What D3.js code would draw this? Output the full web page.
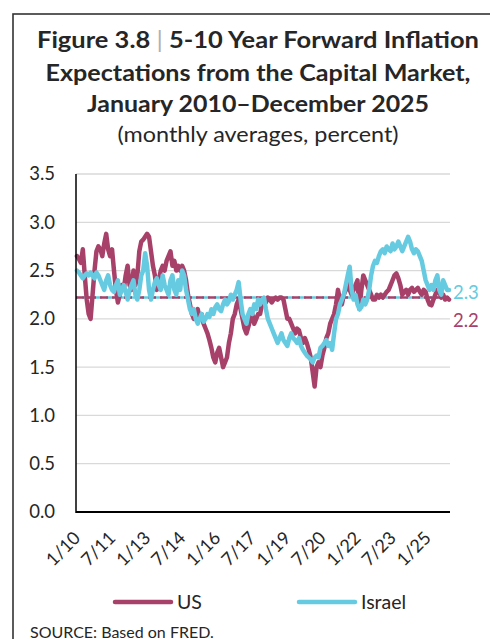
<!DOCTYPE html>
<html>
<head>
<meta charset="utf-8">
<script src="https://cdn.jsdelivr.net/npm/d3@7"></script>
<style>
html,body{margin:0;padding:0;background:#fff;}
svg{display:block;}
</style>
</head>
<body>
<svg id="chart" width="490" height="639"></svg>
<script>
// ---------- DATA ----------
const months = [];
for (let y = 2010; y <= 2025; y++) for (let m = 1; m <= 12; m++) months.push(m + "/" + String(y).slice(2));

const usValues = [
 2.65,2.62,2.58,2.72,2.45,2.2,2.05,2.0,2.25,2.5,2.7,2.75,
 2.72,2.65,2.78,2.88,2.72,2.65,2.72,2.5,2.3,2.17,2.25,2.35,
 2.3,2.45,2.55,2.35,2.3,2.5,2.35,2.45,2.7,2.8,2.82,2.85,
 2.88,2.85,2.7,2.55,2.45,2.3,2.4,2.5,2.55,2.5,2.6,2.65,
 2.7,2.55,2.6,2.5,2.55,2.5,2.55,2.5,2.4,2.25,2.15,2.05,
 2.0,2.05,2.1,2.0,2.05,1.95,1.9,1.85,1.78,1.7,1.6,1.55,
 1.65,1.7,1.6,1.5,1.55,1.6,1.75,1.85,2.0,2.05,2.15,2.2,
 2.1,2.0,1.9,1.85,1.92,2.0,2.05,1.95,2.0,2.05,2.05,2.15,
 2.2,2.17,2.22,2.2,2.17,2.2,2.22,2.2,2.22,2.22,2.2,2.1,
 2.0,2.0,1.95,1.9,1.85,1.9,1.88,1.8,1.75,1.8,1.75,1.68,
 1.6,1.45,1.3,1.5,1.55,1.5,1.62,1.7,1.8,1.85,1.95,2.0,
 2.05,2.15,2.3,2.2,2.15,2.25,2.3,2.37,2.3,2.25,2.3,2.35,
 2.4,2.1,2.3,2.45,2.4,2.35,2.3,2.25,2.2,2.2,2.25,2.22,
 2.25,2.22,2.25,2.28,2.3,2.35,2.4,2.45,2.47,2.42,2.35,2.25,
 2.28,2.3,2.25,2.3,2.32,2.28,2.3,2.32,2.28,2.25,2.3,2.28,
 2.2,2.15,2.14,2.2,2.25,2.3,2.28,2.22,2.25,2.2,2.22,2.2
];
const israelValues = [
 2.5,2.48,2.45,2.42,2.45,2.47,2.45,2.48,2.45,2.42,2.48,2.45,
 2.4,2.35,2.3,2.4,2.45,2.35,2.3,2.28,2.35,2.4,2.25,2.3,
 2.35,2.28,2.2,2.3,2.35,2.4,2.25,2.2,2.3,2.45,2.5,2.68,
 2.55,2.3,2.2,2.3,2.38,2.42,2.35,2.3,2.45,2.35,2.3,2.25,
 2.4,2.45,2.3,2.25,2.4,2.3,2.5,2.45,2.3,2.2,2.1,2.05,
 2.1,2.0,1.95,2.0,2.05,1.97,2.0,2.05,2.02,2.1,2.05,2.12,
 2.15,2.1,2.08,2.15,2.2,2.15,2.18,2.25,2.2,2.25,2.3,2.38,
 2.2,2.05,2.0,1.95,2.05,2.1,2.05,2.15,2.1,2.2,2.15,2.2,
 2.22,2.1,2.0,1.95,1.9,1.85,1.8,1.75,1.8,1.85,1.78,1.75,
 1.72,1.8,1.85,1.8,1.78,1.75,1.8,1.72,1.68,1.65,1.62,1.6,
 1.58,1.55,1.6,1.62,1.6,1.7,1.72,1.75,1.78,1.72,1.75,1.68,
 1.85,2.0,2.05,2.15,2.2,2.25,2.35,2.45,2.54,2.3,2.2,2.25,
 2.15,2.1,2.12,2.2,2.15,2.2,2.3,2.45,2.55,2.6,2.58,2.65,
 2.7,2.72,2.68,2.75,2.72,2.7,2.78,2.72,2.75,2.8,2.75,2.7,
 2.75,2.8,2.85,2.8,2.72,2.68,2.72,2.7,2.65,2.6,2.5,2.4,
 2.35,2.3,2.35,2.3,2.4,2.45,2.3,2.25,2.4,2.35,2.3,2.3
];
const usAverage = 2.22;
const israelAverage = 2.22;
const usLastLabel = "2.2";
const israelLastLabel = "2.3";
const xTickLabels = ["1/10","7/11","1/13","7/14","1/16","7/17","1/19","7/20","1/22","7/23","1/25"];
const yTicks = [0,0.5,1,1.5,2,2.5,3,3.5];
const seriesNames = ["US","Israel"];

// ---------- STYLE ----------
const US_COLOR = "#a8416a";
const IL_COLOR = "#66cbe0";
const TEXT = "#262626";
const FONT = "Lato, 'Open Sans', sans-serif";

const svg = d3.select("#chart");

// frame
svg.append("rect").attr("x",13).attr("y",14).attr("width",520).attr("height",700)
  .attr("fill","none").attr("stroke","#333").attr("stroke-width",1.6);

// title
const titleX = 258;
const t1 = svg.append("text").attr("x",titleX).attr("y",48).attr("text-anchor","middle")
  .attr("font-family",FONT).attr("font-weight","bold").attr("font-size",23).attr("fill",TEXT)
  .attr("textLength",442).attr("lengthAdjust","spacingAndGlyphs");
t1.append("tspan").text("Figure 3.8 ");
t1.append("tspan").attr("fill","#b0b0b0").attr("font-weight","normal").text("|");
t1.append("tspan").text(" 5-10 Year Forward Inflation");
svg.append("text").attr("x",titleX).attr("y",81).attr("text-anchor","middle")
  .attr("font-family",FONT).attr("font-weight","bold").attr("font-size",23).attr("fill",TEXT)
  .attr("textLength",425).attr("lengthAdjust","spacingAndGlyphs")
  .text("Expectations from the Capital Market,");
svg.append("text").attr("x",titleX).attr("y",112).attr("text-anchor","middle")
  .attr("font-family",FONT).attr("font-weight","bold").attr("font-size",23).attr("fill",TEXT)
  .attr("textLength",342).attr("lengthAdjust","spacingAndGlyphs")
  .text("January 2010\u2013December 2025");
svg.append("text").attr("x",titleX).attr("y",142).attr("text-anchor","middle")
  .attr("font-family",FONT).attr("font-size",21).attr("fill",TEXT)
  .attr("textLength",281).attr("lengthAdjust","spacingAndGlyphs")
  .text("(monthly averages, percent)");

// scales
const x = d3.scalePoint().domain(months).range([76,450]).padding(0.5);
const y = d3.scaleLinear().domain([0,3.5]).range([512,174]);

// gridlines
svg.append("g").selectAll("line").data(yTicks.filter(d=>d>0)).join("line")
  .attr("x1",76).attr("x2",450).attr("y1",d=>y(d)).attr("y2",d=>y(d))
  .attr("stroke","#d9d9d9").attr("stroke-width",1.3);

// y axis labels
const yAxis = d3.axisLeft(y).tickValues(yTicks).tickFormat(d3.format(".1f")).tickSize(0).tickPadding(0);
const gy = svg.append("g").attr("transform","translate(55,0)").call(yAxis);
gy.select(".domain").remove();
gy.selectAll("text").attr("font-family",FONT).attr("font-size",18.5).attr("fill",TEXT);

// x axis labels
const xAxis = d3.axisBottom(x).tickValues(xTickLabels).tickSize(0).tickFormat(d=>d);
const gx = svg.append("g").attr("transform","translate(0,512)").call(xAxis);
gx.select(".domain").remove();
gx.selectAll("text").attr("font-family",FONT).attr("font-size",18).attr("fill",TEXT)
  .attr("text-anchor","end").attr("dy",null).attr("y",0)
  .attr("transform","translate(4,27) rotate(-45)");

// dashed averages
svg.append("line").attr("x1",76).attr("x2",449).attr("y1",y(israelAverage)).attr("y2",y(israelAverage))
  .attr("stroke",IL_COLOR).attr("stroke-width",2.5).attr("stroke-dasharray","8,4").attr("stroke-dashoffset",6);
svg.append("line").attr("x1",76).attr("x2",449).attr("y1",y(usAverage)).attr("y2",y(usAverage))
  .attr("stroke",US_COLOR).attr("stroke-width",2.5).attr("stroke-dasharray","8,4");

// lines
const line = d3.line().x((d,i)=>x(months[i])).y(d=>y(d));
svg.append("path").datum(usValues).attr("d",line).attr("fill","none")
  .attr("stroke",US_COLOR).attr("stroke-width",4.5).attr("stroke-linejoin","round").attr("stroke-linecap","round");
svg.append("path").datum(israelValues).attr("d",line).attr("fill","none")
  .attr("stroke",IL_COLOR).attr("stroke-width",4.5).attr("stroke-linejoin","round").attr("stroke-linecap","round");

// axis lines
svg.append("line").attr("x1",76).attr("x2",76).attr("y1",174).attr("y2",513).attr("stroke","#000").attr("stroke-width",1.5);
svg.append("line").attr("x1",76).attr("x2",450).attr("y1",512).attr("y2",512).attr("stroke","#000").attr("stroke-width",2);

// end labels
svg.append("text").attr("x",453).attr("y",299).attr("font-family",FONT).attr("font-size",18.5)
  .attr("fill",IL_COLOR).text(israelLastLabel);
svg.append("text").attr("x",453).attr("y",327).attr("font-family",FONT).attr("font-size",18.5)
  .attr("fill",US_COLOR).text(usLastLabel);

// legend
const legend = [{name:seriesNames[0],color:US_COLOR,x:113},{name:seriesNames[1],color:IL_COLOR,x:297}];
legend.forEach(l=>{
  svg.append("line").attr("x1",l.x+2).attr("x2",l.x+58).attr("y1",602).attr("y2",602)
    .attr("stroke",l.color).attr("stroke-width",4.5).attr("stroke-linecap","round");
  svg.append("text").attr("x",l.x+64).attr("y",609).attr("font-family",FONT).attr("font-size",19.5)
    .attr("fill",TEXT).text(l.name);
});

// source
svg.append("text").attr("x",30).attr("y",638).attr("font-family",FONT).attr("font-size",16)
  .attr("fill",TEXT).text("SOURCE: Based on FRED.");
</script>
</body>
</html>
